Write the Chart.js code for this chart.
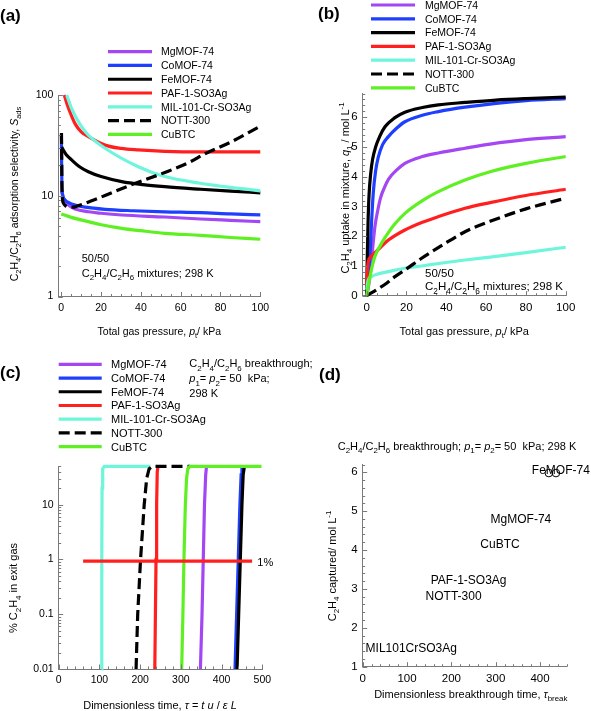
<!DOCTYPE html>
<html>
<head>
<meta charset="utf-8">
<script src="https://cdn.jsdelivr.net/npm/chart.js@4.4.0/dist/chart.umd.min.js"></script>
<style>
  html, body { margin: 0; padding: 0; background: #fff; }
  body { width: 591px; height: 711px; position: relative; overflow: hidden; }
  canvas { position: absolute; }
</style>
</head>
<body>
<canvas id="pa"></canvas>
<canvas id="pb"></canvas>
<canvas id="pc"></canvas>
<canvas id="pd"></canvas>
<script>
const materials = ['MgMOF-74', 'CoMOF-74', 'FeMOF-74', 'PAF-1-SO3Ag', 'MIL-101-Cr-SO3Ag', 'NOTT-300', 'CuBTC']

// (a) adsorption selectivity vs total pressure, [kPa, S_ads]
const selMg = [[0.2, 11], [1, 9.5], [3.5, 8.1], [7, 7.4], [13.6, 6.93], [20, 6.7], [30.4, 6.44], [52, 6.15], [70, 5.88], [85, 5.7], [100, 5.53]]
const selCo = [[0.05, 40], [0.15, 22], [0.3, 13], [0.6, 10.5], [1.9, 9.1], [4, 8.5], [6.9, 8.1], [12, 7.7], [22, 7.33], [36, 7.1], [52, 6.93], [70, 6.8], [85, 6.6], [100, 6.45]]
const selFe = [[0.2, 30.5], [1, 28.5], [2.5, 25.5], [5.2, 22.7], [9, 19.5], [13.6, 17.3], [20, 15.5], [30.4, 13.8], [41, 12.9], [52, 12.3], [70, 11.6], [85, 11.1], [100, 10.7]]
const selPAF = [[1.5, 100], [3, 80], [5, 63], [6.9, 52], [10, 43], [13.6, 38.6], [22, 31.8], [30, 29.5], [38.7, 28.5], [52, 27.6], [70, 27.2], [85, 27.2], [100, 27.3]]
const selMIL = [[2.7, 100], [5, 75], [8, 57], [11, 46], [13.6, 40], [22, 29.6], [38.7, 19.4], [52, 15.5], [70, 13.3], [85, 12.1], [100, 11.2]]
const selNOTT = [[0.1, 42], [0.2, 25], [0.35, 12], [0.6, 9.3], [1, 8.5], [2, 8], [4, 7.7], [6, 7.7], [8, 7.9], [20, 9.7], [35, 12.8], [52, 17], [65, 21.8], [72, 26], [85, 34], [100, 49]]
const selCu = [[0, 6.6], [5, 6.1], [13.6, 5.53], [20, 5.15], [30.4, 4.75], [40, 4.5], [52, 4.24], [70, 4.05], [85, 3.85], [100, 3.7]]

// (b) C2H4 uptake in mixture, [kPa, mol/L]
const upMg = [[0, 0], [1, 0.35], [2, 0.85], [3, 1.6], [4.2, 2.35], [5.5, 2.85], [7, 3.3], [9, 3.65], [11, 3.92], [15, 4.22], [19.2, 4.45], [28, 4.68], [36, 4.8], [49.4, 4.96], [62, 5.1], [80, 5.25], [100, 5.35]]
const upCo = [[0, 0], [0.5, 0.35], [1, 0.75], [1.66, 1.35], [2.4, 2.4], [3.3, 3.45], [4.5, 4.2], [5.8, 4.65], [8, 5.08], [10.9, 5.35], [15, 5.63], [19.2, 5.85], [28, 6.07], [36, 6.19], [49.4, 6.34], [65, 6.47], [80, 6.56], [100, 6.63]]
const upFe = [[0, 0], [0.3, 1.3], [0.7, 2.5], [1.2, 3.4], [2, 4.1], [3, 4.6], [4.5, 5.0], [6.5, 5.35], [9.2, 5.68], [14, 5.98], [19.2, 6.17], [28, 6.33], [36, 6.42], [49.4, 6.5], [65, 6.58], [80, 6.63], [100, 6.68]]
const upPAF = [[0, 0.35], [0.4, 0.9], [0.8, 1.15], [2, 1.3], [4.2, 1.45], [7, 1.63], [10.9, 1.87], [19.2, 2.21], [28, 2.47], [36, 2.66], [49.4, 2.94], [62, 3.13], [80, 3.37], [100, 3.58]]
const upMIL = [[0, 0.2], [0.8, 0.53], [2, 0.62], [4.2, 0.7], [10.9, 0.81], [20, 0.93], [27.6, 1.0], [38, 1.1], [49.4, 1.2], [62, 1.3], [80, 1.45], [100, 1.63]]
const upNOTT = [[0, 0], [5, 0.2], [10, 0.42], [14.2, 0.64], [20, 0.9], [27.6, 1.26], [38, 1.7], [49.4, 2.15], [62, 2.5], [80, 2.92], [100, 3.28]]
const upCu = [[0, 0], [1, 0.4], [2, 0.75], [3, 1.05], [4.2, 1.33], [6.5, 1.65], [9.2, 1.95], [14, 2.4], [19.2, 2.77], [28, 3.2], [36, 3.5], [49.4, 3.89], [62, 4.17], [80, 4.45], [100, 4.68]]

// (c) breakthrough curves, [tau, % C2H4 in exit gas]
const btMg = [[348, 0.01], [352, 0.1], [355, 1], [358, 10], [361, 35], [363, 50]]
const btCo = [[433, 0.01], [437, 0.1], [441, 1], [445, 10], [448, 35], [450, 50]]
const btFe = [[438, 0.01], [442, 0.1], [446, 1], [450, 10], [453, 35], [456, 50]]
const btPAF = [[236, 0.01], [237.5, 0.1], [239, 1], [240.5, 10], [242, 40], [244, 50], [246, 50]]
const btMIL = [[105, 0.01], [105.8, 1], [106.5, 20], [108, 45], [112, 50], [225, 50]]
const btNOTT = [[190, 0.01], [194, 0.1], [201, 1], [210, 10], [216, 30], [222, 45], [230, 50], [322, 50]]
const btCu = [[302, 0.01], [305, 0.1], [307.6, 1], [311, 10], [314, 30], [317, 45], [322, 50], [498, 50]]
const onePercent = [[60, 0.93], [475, 0.93]]

// (d) C2H4 captured vs breakthrough time
const dNames = ['MIL101CrSO3Ag', 'NOTT-300', 'PAF-1-SO3Ag', 'CuBTC', 'MgMOF-74', 'FeMOF-74']
const dTau = [109.6, 205, 239, 309.7, 357, 447]
const dCaptured = [1.47, 2.8, 3.21, 4.15, 4.77, 6.03]
const markTau = [420, 436]
const markCaptured = [5.98, 5.98]

// tick labels
const ticksPx = [0, 20, 40, 60, 80, 100]
const ticksSel = [1, 10, 100]
const ticksUp = [0, 1, 2, 3, 4, 5, 6]
const ticksTau = [0, 100, 200, 300, 400, 500]
const ticksPct = [0.01, 0.1, 1, 10]
const ticksBreak = [0, 100, 200, 300, 400]
const ticksCap = [1, 2, 3, 4, 5, 6]

const FONT = "'Liberation Sans', Arial, Helvetica, sans-serif"
const colors = ['#a347f5', '#1f3fff', '#000000', '#ff1f1f', '#6ff5dc', '#000000', '#5ef022']
const AXIS = '#7a7a7a'

Chart.defaults.font.family = FONT
Chart.defaults.color = '#000'

// page geometry of every panel: canvas box and plot area
const panels = {
  pa: { left: 0, top: 0, w: 290, h: 345, L: 58.3, R: 260.3, T: 95, B: 296.5 },
  pb: { left: 290, top: 0, w: 301, h: 345, L: 362.7, R: 565.7, T: 93.5, B: 295.7 },
  pc: { left: 0, top: 345, w: 320, h: 366, L: 58.7, R: 262.3, T: 466.4, B: 669 },
  pd: { left: 290, top: 345, w: 301, h: 366, L: 362.7, R: 566.6, T: 464.5, B: 666.7 }
}

function range(a, b, step) {
  const out = []
  for (let v = a; v <= b + 1e-9; v += step) out.push(+v.toFixed(6))
  return out
}
function logMinors(lo, hi) {
  const out = []
  for (let d = lo; d < hi; d *= 10) {
    for (let k = 2; k <= 9; k++) if (d * k <= hi + 1e-9) out.push(d * k)
  }
  return out
}

// rich text: _{sub}, ^{sup}, *italic*
function richParts(str) {
  const out = []
  const re = /_\{([^}]*)\}|\^\{([^}]*)\}|\*([^*]*)\*|([^_^*]+)/g
  let m
  while ((m = re.exec(str))) {
    if (m[1] !== undefined) out.push({ t: m[1], k: 'sub' })
    else if (m[2] !== undefined) out.push({ t: m[2], k: 'sup' })
    else if (m[3] !== undefined) out.push({ t: m[3], k: 'it' })
    else out.push({ t: m[4], k: 'n' })
  }
  return out
}

function drawRich(ctx, t) {
  const size = t.size || 11
  const parts = richParts(t.s)
  const fontOf = p => (p.k === 'it' ? 'italic ' : '') + (t.bold ? 'bold ' : '') +
    ((p.k === 'sub' || p.k === 'sup') ? size * 0.72 : size) + 'px ' + FONT
  ctx.save()
  ctx.translate(t.x, t.y)
  if (t.rot) ctx.rotate(t.rot)
  let w = 0
  parts.forEach(p => { ctx.font = fontOf(p); p.w = ctx.measureText(p.t).width; w += p.w })
  let cx = t.align === 'center' ? -w / 2 : t.align === 'right' ? -w : 0
  ctx.textAlign = 'left'
  ctx.textBaseline = 'alphabetic'
  ctx.fillStyle = '#000'
  const base = size * 0.36
  parts.forEach(p => {
    ctx.font = fontOf(p)
    const dy = p.k === 'sub' ? size * 0.3 : p.k === 'sup' ? -size * 0.42 : 0
    ctx.fillText(p.t, cx, base + dy)
    cx += p.w
  })
  ctx.restore()
}

const up = -Math.PI / 2
const panelDecor = {
  pa: {
    xMinor: range(0, 100, 5), yMinor: logMinors(1, 100),
    legend: { x1: 108, x2: 152, tx: 161, y0: 51.7, dy: 13.77, size: 10.5 },
    texts: [
      { s: '(a)', x: 0, y: 15, size: 17, bold: true },
      { s: '50/50', x: 81.7, y: 258, size: 11 },
      { s: 'C_{2}H_{4}/C_{2}H_{6} mixtures; 298 K', x: 81.7, y: 273, size: 11 },
      { s: 'C_{2}H_{4}/C_{2}H_{6} adsorption selectivity, *S*_{ads}', x: 14, y: 194, size: 10.5, rot: up, align: 'center' },
      { s: 'Total gas pressure, *p*_{t}/ kPa', x: 159.3, y: 331, size: 10.5, align: 'center' }
    ]
  },
  pb: {
    xMinor: range(0, 100, 5), yMinor: range(0, 6.8, 0.2),
    legend: { x1: 371, x2: 415, tx: 425, y0: 5, dy: 13.8, size: 10.5 },
    texts: [
      { s: '(b)', x: 318, y: 12.5, size: 17, bold: true },
      { s: '50/50', x: 425, y: 272.7, size: 11.5 },
      { s: 'C_{2}H_{4}/C_{2}H_{6} mixtures; 298 K', x: 425, y: 286, size: 11.5 },
      { s: 'C_{2}H_{4} uptake in mixture, *q*_{1} / mol L^{-1}', x: 345, y: 188, size: 11, rot: up, align: 'center' },
      { s: 'Total gas pressure, *p*_{t}/ kPa', x: 464.3, y: 331, size: 11, align: 'center' }
    ]
  },
  pc: {
    xMinor: range(0, 500, 20), yMinor: logMinors(0.01, 50),
    legend: { x1: 58.7, x2: 101.7, tx: 111, y0: 364.3, dy: 13.73, size: 11 },
    texts: [
      { s: '(c)', x: 0, y: 371.7, size: 17, bold: true },
      { s: 'C_{2}H_{4}/C_{2}H_{6} breakthrough;', x: 189.3, y: 363.3, size: 11 },
      { s: '*p*_{1}= *p*_{2}= 50  kPa;', x: 189.3, y: 378.3, size: 11 },
      { s: '298 K', x: 189.3, y: 393.3, size: 11 },
      { s: '1%', x: 257.3, y: 562, size: 11 },
      { s: '% C_{2}H_{4} in exit gas', x: 13.3, y: 588, size: 11, rot: up, align: 'center' },
      { s: 'Dimensionless time, *τ* = *t u* / *ε L*', x: 160, y: 705.5, size: 11, align: 'center' }
    ]
  },
  pd: {
    xMinor: range(0, 460, 20), yMinor: range(1, 6.2, 0.2),
    texts: [
      { s: '(d)', x: 319, y: 373.5, size: 17, bold: true },
      { s: 'C_{2}H_{4}/C_{2}H_{6} breakthrough; *p*_{1}= *p*_{2}= 50  kPa; 298 K', x: 457, y: 446, size: 11, align: 'center' },
      { s: 'C_{2}H_{4} captured/ mol L^{-1}', x: 331.7, y: 566, size: 11, rot: up, align: 'center' },
      { s: 'Dimensionless breakthrough time, *τ*_{break}', x: 470.8, y: 694, size: 11, align: 'center' }
    ],
    labels: { size: 12 }
  }
}

const decor = {
  id: 'decor',
  afterDraw(chart) {
    const id = chart.canvas.id
    const d = panelDecor[id]
    const p = panels[id]
    const ctx = chart.ctx
    const a = chart.chartArea
    const xs = chart.scales.x
    const ys = chart.scales.y
    ctx.save()
    // inward ticks
    ctx.strokeStyle = AXIS
    ctx.lineWidth = 1
    ctx.beginPath()
    const xt = (v, len) => {
      const px = Math.round(xs.getPixelForValue(v)) + 0.5
      ctx.moveTo(px, a.bottom); ctx.lineTo(px, a.bottom - len)
    }
    const yt = (v, len) => {
      const py = Math.round(ys.getPixelForValue(v)) + 0.5
      ctx.moveTo(a.left, py); ctx.lineTo(a.left + len, py)
    }
    xs.ticks.forEach(t => xt(t.value, 4.5))
    d.xMinor.forEach(v => xt(v, 2.5))
    ys.ticks.forEach(t => yt(t.value, 4.5))
    d.yMinor.forEach(v => yt(v, 2.5))
    ctx.stroke()

    // point labels (panel d)
    if (d.labels) {
      ctx.font = d.labels.size + 'px ' + FONT
      ctx.fillStyle = '#000'
      ctx.textAlign = 'center'
      ctx.textBaseline = 'middle'
      dNames.forEach((n, i) => {
        ctx.fillText(n, xs.getPixelForValue(dTau[i]), ys.getPixelForValue(dCaptured[i]))
      })
    }

    ctx.translate(-p.left, -p.top)
    // legend
    if (d.legend) {
      const L = d.legend
      materials.forEach((name, i) => {
        const ds = chart.data.datasets[i]
        const y = L.y0 + i * L.dy
        ctx.save()
        ctx.strokeStyle = ds.borderColor
        ctx.lineWidth = ds.borderWidth
        ctx.setLineDash(ds.borderDash || [])
        ctx.beginPath()
        ctx.moveTo(L.x1, y); ctx.lineTo(L.x2, y)
        ctx.stroke()
        ctx.restore()
        drawRich(ctx, { s: name, x: L.tx, y: y, size: L.size })
      })
    }
    d.texts.forEach(t => drawRich(ctx, t))
    ctx.restore()
  }
}

function lineSets(series) {
  return series.map((pts, i) => ({
    label: materials[i],
    data: pts.map(([x, y]) => ({ x, y })),
    borderColor: colors[i],
    borderWidth: 3.2,
    borderDash: i === 5 ? [11, 5] : [],
    borderCapStyle: 'butt',
    pointRadius: 0,
    fill: false,
    cubicInterpolationMode: 'monotone',
    clip: false,
    order: series.length - i + 1
  }))
}

function scaleOpts(p, axis, type, min, max, majors, fontSize) {
  const isX = axis === 'x'
  return {
    type, min, max,
    position: isX ? 'bottom' : 'left',
    grid: { display: false, drawTicks: false },
    border: { display: true, color: AXIS, width: 1 },
    afterBuildTicks: s => { s.ticks = majors.map(v => ({ value: v })) },
    afterFit: s => {
      if (isX) s.height = p.top + p.h - p.B
      else s.width = p.L - p.left
      s.paddingLeft = s.paddingRight = s.paddingTop = s.paddingBottom = 0
    },
    ticks: {
      color: '#000', font: { size: fontSize, family: FONT }, padding: 5,
      maxRotation: 0, minRotation: 0, autoSkip: false,
      callback: v => String(v)
    }
  }
}

function makeChart(id, datasets, xs, ys) {
  const p = panels[id]
  const cv = document.getElementById(id)
  cv.width = p.w
  cv.height = p.h
  cv.style.left = p.left + 'px'
  cv.style.top = p.top + 'px'
  return new Chart(cv, {
    type: 'line',
    data: { datasets },
    options: {
      responsive: false,
      animation: false,
      devicePixelRatio: 1,
      layout: { padding: { left: 0, bottom: 0, top: p.T - p.top, right: p.left + p.w - p.R } },
      plugins: { legend: { display: false }, tooltip: { enabled: false } },
      scales: { x: xs, y: ys }
    },
    plugins: [decor]
  })
}

// (a)
makeChart('pa',
  lineSets([selMg, selCo, selFe, selPAF, selMIL, selNOTT, selCu]),
  scaleOpts(panels.pa, 'x', 'linear', -1.5, 100, ticksPx, 10.5),
  scaleOpts(panels.pa, 'y', 'logarithmic', 1, 100, ticksSel, 10.5))

// (b)
makeChart('pb',
  lineSets([upMg, upCo, upFe, upPAF, upMIL, upNOTT, upCu]),
  scaleOpts(panels.pb, 'x', 'linear', -2, 100, ticksPx, 11.5),
  scaleOpts(panels.pb, 'y', 'linear', 0, 6.8, ticksUp, 11.5))

// (c)
const cSets = lineSets([btMg, btCo, btFe, btPAF, btMIL, btNOTT, btCu])
cSets.forEach(s => { s.cubicInterpolationMode = 'default'; s.tension = 0 })
cSets.push({
  label: '1%',
  data: onePercent.map(([x, y]) => ({ x, y })),
  borderColor: colors[3], borderWidth: 3.2, pointRadius: 0, fill: false, clip: false, order: 0
})
makeChart('pc', cSets,
  scaleOpts(panels.pc, 'x', 'linear', 0, 500, ticksTau, 10.5),
  scaleOpts(panels.pc, 'y', 'logarithmic', 0.01, 50, ticksPct, 10.5))

// (d)
makeChart('pd', [
  {
    label: 'captured',
    data: dTau.map((x, i) => ({ x, y: dCaptured[i] })),
    showLine: false, pointRadius: 0
  },
  {
    label: 'Co/Fe',
    data: markTau.map((x, i) => ({ x, y: markCaptured[i] })),
    showLine: false, pointRadius: 3.8, pointStyle: 'circle',
    borderColor: '#000', borderWidth: 1, backgroundColor: 'rgba(0,0,0,0)'
  }
],
  scaleOpts(panels.pd, 'x', 'linear', 0, 460, ticksBreak, 11.5),
  scaleOpts(panels.pd, 'y', 'linear', 1, 6.2, ticksCap, 11.5))
</script>
</body>
</html>
